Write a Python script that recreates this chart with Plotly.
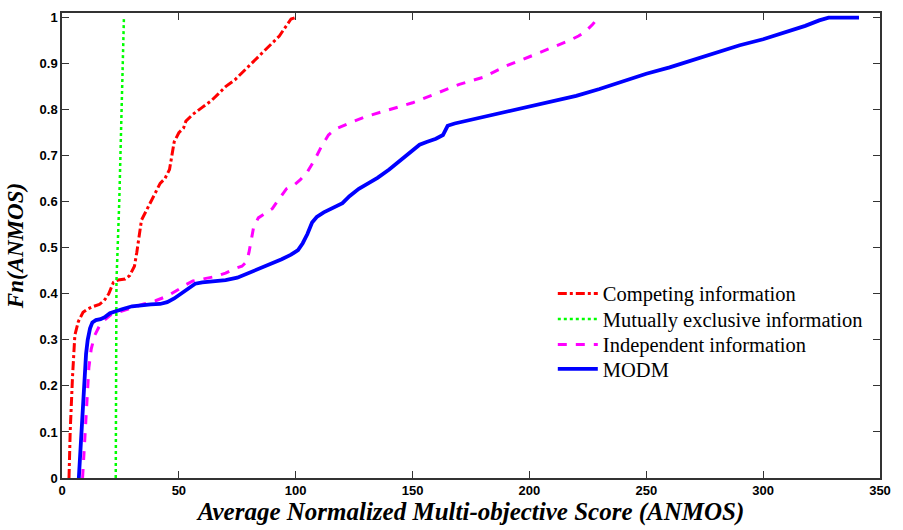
import plotly.graph_objects as go

# Competing information
comp_x = [3, 3.5, 4.5, 5.5, 7, 9, 11, 13, 16, 18, 20, 22, 24, 27, 29, 31, 32, 33, 34, 36, 38, 40, 42, 44, 46, 47, 48, 50, 52, 53, 56, 60, 64, 67, 70, 74, 78, 81, 84, 87, 90, 93, 95, 97, 98, 100]
comp_y = [0, 0.1, 0.22, 0.31, 0.34, 0.36, 0.367, 0.372, 0.377, 0.385, 0.40, 0.425, 0.43, 0.432, 0.44, 0.46, 0.49, 0.53, 0.56, 0.58, 0.60, 0.62, 0.64, 0.65, 0.67, 0.70, 0.73, 0.75, 0.76, 0.775, 0.79, 0.805, 0.82, 0.835, 0.85, 0.865, 0.885, 0.90, 0.915, 0.93, 0.945, 0.96, 0.975, 0.99, 0.997, 1.0]

# Mutually exclusive information
mutex_x = [23.0, 23.0, 23.1, 23.3, 23.6, 24.0, 24.5, 25.0, 25.4, 25.8, 26.2, 26.5]
mutex_y = [0, 0.2, 0.35, 0.43, 0.47, 0.52, 0.6, 0.7, 0.8, 0.88, 0.95, 1.0]

# Independent information
indep_x = [8.8, 9.5, 10, 10.6, 11.5, 12.5, 14, 16, 18, 21, 25, 30, 35, 40, 45, 50, 53, 56, 60, 65, 70, 74, 77, 79, 80, 81, 82, 84, 87, 90, 92, 94, 96, 99, 102, 105, 108, 111, 114, 117, 120, 125, 130, 140, 150, 160, 170, 180, 190, 200, 210, 217, 221, 224, 227, 229, 231]
indep_y = [0, 0.06, 0.12, 0.18, 0.24, 0.28, 0.31, 0.33, 0.342, 0.355, 0.362, 0.37, 0.378, 0.385, 0.395, 0.41, 0.42, 0.428, 0.432, 0.437, 0.445, 0.455, 0.46, 0.47, 0.49, 0.52, 0.545, 0.565, 0.575, 0.585, 0.6, 0.615, 0.628, 0.635, 0.648, 0.665, 0.69, 0.72, 0.745, 0.758, 0.765, 0.775, 0.785, 0.80, 0.815, 0.835, 0.855, 0.87, 0.895, 0.915, 0.935, 0.95, 0.96, 0.97, 0.985, 0.997, 1.0]

# MODM
modm_x = [7.2, 7.8, 8.4, 9.0, 9.6, 10.3, 11.0, 12.0, 13.0, 14.5, 16.5, 18.5, 20.5, 23, 26, 30, 34, 38, 42, 45, 48, 51, 54, 57, 60, 65, 70, 75, 80, 85, 90, 94, 98, 101, 103, 105, 107, 109, 112, 116, 120, 123, 127, 131, 135, 140, 145, 150, 153, 156, 160, 163, 165, 168, 175, 182, 190, 200, 210, 220, 230, 240, 250, 260, 270, 280, 290, 300, 310, 318, 324, 328, 335, 341]
modm_y = [0, 0.05, 0.11, 0.17, 0.22, 0.27, 0.3, 0.325, 0.338, 0.343, 0.345, 0.35, 0.358, 0.363, 0.367, 0.373, 0.376, 0.377, 0.378, 0.382, 0.39, 0.4, 0.41, 0.422, 0.425, 0.427, 0.43, 0.435, 0.445, 0.455, 0.465, 0.475, 0.485, 0.495, 0.51, 0.53, 0.555, 0.567, 0.577, 0.586, 0.597, 0.612, 0.628, 0.64, 0.652, 0.67, 0.69, 0.71, 0.724, 0.73, 0.737, 0.745, 0.765, 0.77, 0.778, 0.788, 0.797, 0.807, 0.818, 0.83, 0.845, 0.862, 0.878, 0.892, 0.908, 0.925, 0.94, 0.953, 0.968, 0.982, 0.994, 1.0, 1.0, 1.0]

x_ticks = [0, 50, 100, 150, 200, 250, 300, 350]
y_ticks = [0, 0.1, 0.2, 0.3, 0.4, 0.5, 0.6, 0.7, 0.8, 0.9, 1]
y_tick_text = ["0", "0.1", "0.2", "0.3", "0.4", "0.5", "0.6", "0.7", "0.8", "0.9", "1"]

SERIF = "Liberation Serif, Times New Roman, Times, serif"

fig = go.Figure()
fig.add_trace(go.Scatter(x=comp_x, y=comp_y, mode="lines", name="Competing information", legend="legend",
                         line=dict(color="#ff0000", width=3, dash="dashdot")))
fig.add_trace(go.Scatter(x=mutex_x, y=mutex_y, mode="lines", name="Mutually exclusive information", legend="legend2",
                         line=dict(color="#00ff00", width=2.5, dash="dot")))
fig.add_trace(go.Scatter(x=indep_x, y=indep_y, mode="lines", name="Independent information", legend="legend3",
                         line=dict(color="#ff00ff", width=3, dash="dash")))
fig.add_trace(go.Scatter(x=modm_x, y=modm_y, mode="lines", name="MODM", legend="legend4",
                         line=dict(color="#0000ff", width=3.8)))

axis_common = dict(showgrid=False, zeroline=False, showline=True, linecolor="#333333", linewidth=1.5,
                   mirror="ticks", ticks="inside", ticklen=7, tickcolor="#333333", tickwidth=1,
                   tickfont=dict(family="Liberation Sans", size=13, color="black", weight="bold"))

fig.update_xaxes(range=[0, 350], tickvals=x_ticks,
                 title=dict(text="Average Normalized Multi-objective Score (ANMOS)", standoff=4,
                            font=dict(family=SERIF, size=25, color="black", weight="bold", style="italic")),
                 **axis_common)
fig.update_yaxes(range=[0, 1.01], tickvals=y_ticks, ticktext=y_tick_text,
                 title=dict(text="Fn(ANMOS)", standoff=10,
                            font=dict(family=SERIF, size=23, color="black", weight="bold", style="italic")),
                 **axis_common)

# legend rows centred at pixel rows 296, 322, 348, 373 of a plot area spanning 10..484
def leg(py):
    return dict(x=0.6, y=(484 - py) / 474, xanchor="left", yanchor="middle", bgcolor="rgba(0,0,0,0)",
                font=dict(family=SERIF, size=20.5, color="black"), itemwidth=40)

fig.update_layout(
    width=903, height=530,
    margin=dict(l=62, r=23, t=10, b=46),
    plot_bgcolor="white", paper_bgcolor="white",
    showlegend=True,
    legend=leg(296), legend2=leg(322), legend3=leg(348), legend4=leg(373),
)

fig.write_html("out.html")
